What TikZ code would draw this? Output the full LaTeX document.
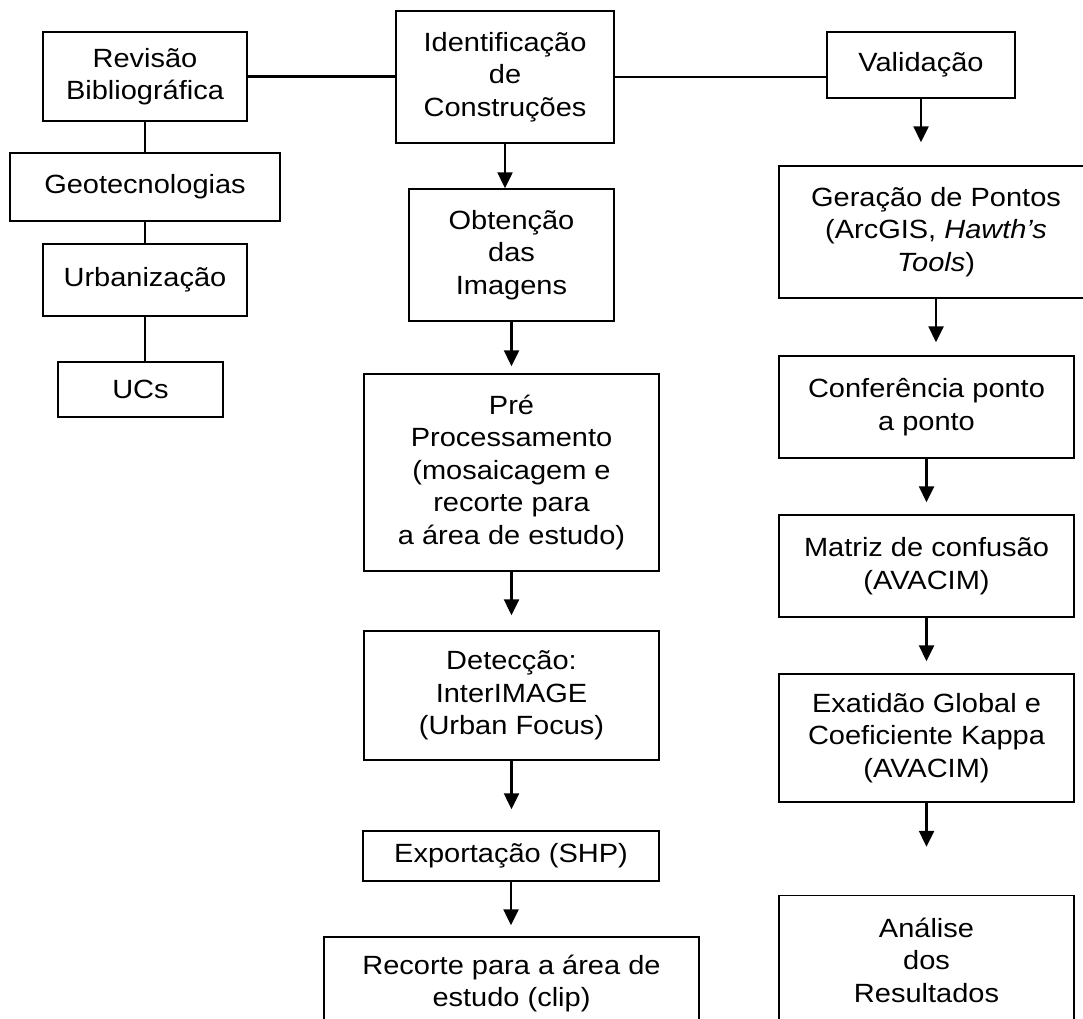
\documentclass[tikz,border=0pt]{standalone}
\usepackage{fontspec}
\setmainfont{Liberation Sans}[FakeStretch=1.1]
\usetikzlibrary{arrows.meta,positioning}

\begin{document}
\begin{tikzpicture}[
    box/.style={draw,line width=0.9pt,align=center,inner sep=0pt},
    arr/.style={-{Triangle[length=9pt,width=8.5pt]},line width=1.3pt},
    lnk/.style={line width=1.3pt},
    font=\fontsize{15}{18.5}\selectfont,
  ]
    \clip (0,0) rectangle (21.66,-20.36);
    % left column
    \node[box,minimum width=4.08cm,minimum height=1.78cm] (rev) at (2.90,-1.53)
      {Revisão\\Bibliográfica};
    \node[box,minimum width=5.40cm,minimum height=1.36cm] (geo) at (2.90,-3.74)
      {Geotecnologias};
    \node[box,minimum width=4.08cm,minimum height=1.44cm] (urb) at (2.90,-5.60)
      {Urbanização};
    \node[box,minimum width=3.30cm,minimum height=1.10cm] (ucs) at (2.81,-7.79)
      {UCs};
    % middle column
    \node[box,minimum width=4.36cm,minimum height=2.64cm] (ident) at (10.10,-1.54)
      {Identificação\\de\\Construções};
    \node[box,minimum width=4.10cm,minimum height=2.64cm] (obt) at (10.23,-5.10)
      {Obtenção\\das\\Imagens};
    \node[box,minimum width=5.90cm,minimum height=3.94cm] (pre) at (10.23,-9.45)
      {Pré\\Processamento\\(mosaicagem e\\recorte para\\a área de estudo)};
    \node[box,minimum width=5.90cm,minimum height=2.58cm] (det) at (10.23,-13.91)
      {Detecção:\\InterIMAGE\\(Urban Focus)};
    \node[box,minimum width=5.92cm,minimum height=1.00cm] (exp) at (10.22,-17.12)
      {Exportação (SHP)};
    \node[box,minimum width=7.50cm,minimum height=1.86cm] (rec) at (10.23,-19.67)
      {Recorte para a área de\\estudo (clip)};
    % right column
    \node[box,minimum width=3.76cm,minimum height=1.32cm] (valid) at (18.42,-1.30)
      {Validação};
    \node[box,minimum width=6.28cm,minimum height=2.64cm] (ger) at (18.72,-4.64)
      {Geração de Pontos\\(ArcGIS, \textit{Hawth’s}\\\textit{Tools})};
    \node[box,minimum width=5.90cm,minimum height=2.04cm] (conf) at (18.53,-8.14)
      {Conferência ponto\\a ponto};
    \node[box,minimum width=5.90cm,minimum height=2.04cm] (mat) at (18.53,-11.32)
      {Matriz de confusão\\(AVACIM)};
    \node[box,minimum width=5.90cm,minimum height=2.56cm] (exa) at (18.53,-14.76)
      {Exatidão Global e\\Coeficiente Kappa\\(AVACIM)};
    \node[box,minimum width=5.90cm,minimum height=2.58cm] (ana) at (18.53,-19.20)
      {Análise\\dos\\Resultados};
    % links
    \draw[lnk] (rev.east) -- (rev.east -| ident.west);
    \draw[lnk] (ident.east) -- (ident.east -| valid.west);
    \draw[lnk] (rev) -- (geo);
    \draw[lnk] (geo) -- (urb);
    \draw[lnk] (urb.south) -- (urb.south |- ucs.north);
    % arrows
    \draw[arr] (ident.south) -- (ident.south |- obt.north);
    \draw[arr,shorten >=0.14cm] (obt.south) -- (obt.south |- pre.north);
    \draw[arr,shorten >=0.30cm] (pre.south) -- (pre.south |- det.north);
    \draw[arr,shorten >=0.42cm] (det.south) -- (det.south |- exp.north);
    \draw[arr,shorten >=0.22cm] (exp.south) -- (exp.south |- rec.north);
    \draw[arr,shorten >=0.46cm] (valid.south) -- (valid.south |- ger.north);
    \draw[arr,shorten >=0.26cm] (ger.south) -- (ger.south |- conf.north);
    \draw[arr,shorten >=0.24cm] (conf.south) -- (conf.south |- mat.north);
    \draw[arr,shorten >=0.24cm] (mat.south) -- (mat.south |- exa.north);
    \draw[arr,shorten >=0.96cm] (exa.south) -- (exa.south |- ana.north);
  \end{tikzpicture}
\end{document}
